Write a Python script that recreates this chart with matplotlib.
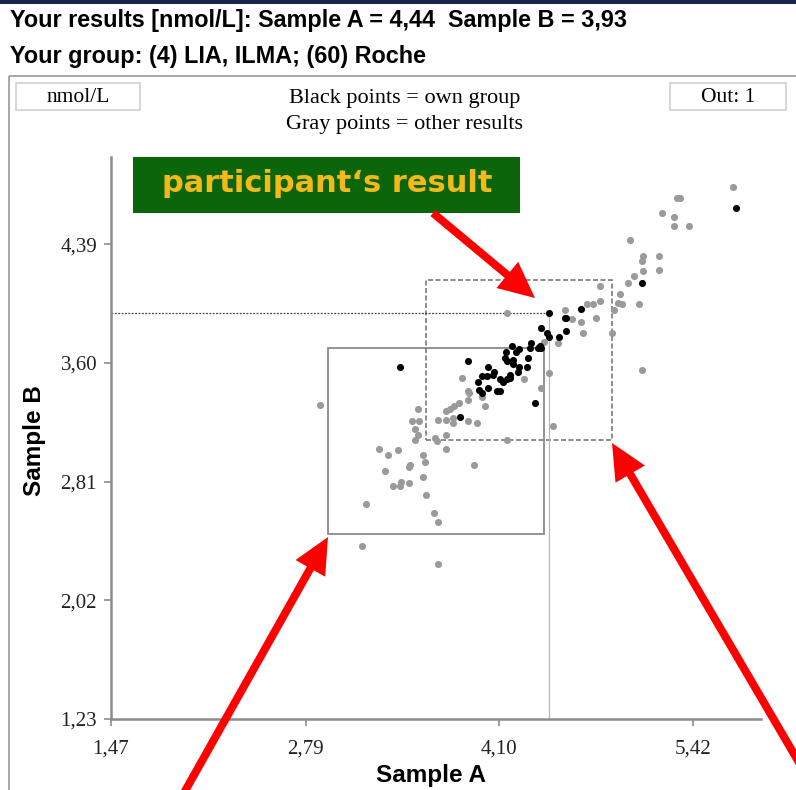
import numpy as np
import matplotlib
matplotlib.use("Agg")
import matplotlib.pyplot as plt
from matplotlib.patches import Rectangle, FancyArrow

# --- Daten (nmol/L) ---
own_result = (4.44, 3.93)

other_a = [2.89, 3.17, 3.20, 3.29, 3.35, 3.42, 3.33, 3.49, 3.50, 3.38, 3.43, 3.44, 3.49,
           3.59, 3.60, 3.59, 3.61, 3.66, 3.69, 3.69, 3.93, 3.74, 3.55, 3.51, 3.56, 3.53,
           3.55, 3.53, 3.67, 3.68, 3.74, 3.69, 3.74, 3.79, 3.79, 3.89, 3.95, 3.74, 3.77,
           3.80, 3.83, 3.89, 3.90, 4.01, 3.99, 3.89, 3.85, 4.27, 4.44, 4.39, 4.47, 4.16,
           4.16, 4.41, 4.50, 4.55, 4.60, 4.66, 4.67, 4.70, 4.74, 4.76, 4.79, 4.79, 4.87,
           4.88, 4.92, 4.91, 4.94, 5.05, 4.98, 5.02, 5.08, 5.07, 5.08, 5.19, 5.19, 4.99,
           5.21, 5.29, 5.29, 5.39, 5.31, 5.33, 5.69, 5.07]
other_b = [3.32, 2.38, 2.66, 3.03, 2.99, 3.02, 2.88, 2.91, 2.92, 2.78, 2.78, 2.81, 2.80,
           2.99, 2.94, 2.84, 2.72, 2.60, 2.54, 2.26, 2.92, 3.03, 3.29, 3.21, 3.21, 3.16,
           3.12, 3.09, 3.10, 3.08, 3.12, 3.22, 3.22, 3.23, 3.20, 3.21, 3.20, 3.28, 3.29,
           3.31, 3.33, 3.35, 3.40, 3.31, 3.37, 3.41, 3.50, 3.49, 3.53, 3.43, 3.18, 3.09,
           3.93, 3.74, 3.73, 3.95, 3.89, 3.87, 3.80, 3.99, 3.99, 3.90, 4.01, 4.11, 3.80,
           3.95, 4.06, 4.00, 3.99, 3.99, 4.13, 4.18, 4.21, 4.28, 4.31, 4.31, 4.22, 4.42,
           4.60, 4.57, 4.51, 4.51, 4.70, 4.70, 4.77, 3.55]

group_a = [4.44, 4.66, 5.07, 5.71, 4.55, 4.56, 4.39, 4.43, 4.44, 4.56, 4.51, 4.38, 4.39,
           4.37, 4.32, 4.31, 4.24, 4.22, 4.19, 4.15, 4.14, 4.16, 4.20, 4.20, 4.30, 4.29,
           4.24, 4.23, 3.89, 4.03, 4.07, 4.06, 4.18, 4.18, 4.16, 4.11, 4.13, 3.99, 4.02,
           3.96, 4.03, 3.97, 3.99, 4.09, 4.11, 4.35, 3.84, 3.43]
group_b = [3.93, 3.96, 4.13, 4.63, 3.90, 3.90, 3.83, 3.80, 3.77, 3.81, 3.77, 3.71, 3.70,
           3.70, 3.73, 3.70, 3.69, 3.67, 3.71, 3.67, 3.63, 3.61, 3.62, 3.59, 3.63, 3.57,
           3.57, 3.54, 3.61, 3.57, 3.54, 3.52, 3.52, 3.50, 3.49, 3.49, 3.47, 3.51, 3.51,
           3.47, 3.43, 3.42, 3.40, 3.41, 3.41, 3.33, 3.24, 3.57]

# Bewertungsrahmen: (A min, A max, B min, B max)
box_solid = (2.94, 4.41, 2.46, 3.70)
box_dashed = (3.61, 4.87, 3.09, 4.15)

x_ticks = [1.47, 2.79, 4.10, 5.42]
y_ticks = [1.23, 2.02, 2.81, 3.60, 4.39]
x_range = (1.47, 5.88)
y_range = (1.23, 4.97)

serif = "Liberation Serif"
sans = "Liberation Sans"
axis_gray = "#8c8c8c"

fig = plt.figure(figsize=(7.96, 7.90), dpi=100)
ax = fig.add_axes([111 / 796, 1 - 719 / 790, 650 / 796, 562 / 790])

# Punkte
ax.scatter(other_a, other_b, s=26, color="#9a9a9a", linewidths=0, zorder=3)
ax.scatter(group_a, group_b, s=26, color="black", linewidths=0, zorder=4)

# Rahmen
x0, x1, y0, y1 = box_solid
ax.add_patch(Rectangle((x0, y0), x1 - x0, y1 - y0, fill=False, ec="#8a8a8a", lw=1.3, zorder=2))
x0, x1, y0, y1 = box_dashed
ax.add_patch(Rectangle((x0, y0), x1 - x0, y1 - y0, fill=False, ec="#7a7a7a", lw=1.2,
                       ls=(0, (3, 1.5)), zorder=2))

# Linien zum eigenen Ergebnis
ax.plot([x_range[0], own_result[0]], [own_result[1], own_result[1]], color="#444444",
        lw=0.9, ls=(0, (1.5, 1.2)), zorder=2)
ax.plot([own_result[0], own_result[0]], [y_range[0], own_result[1]], color="#b8b8b8",
        lw=0.9, zorder=2)

ax.set_xlim(*x_range)
ax.set_ylim(*y_range)
for side in ["top", "right"]:
    ax.spines[side].set_visible(False)
for side in ["left", "bottom"]:
    ax.spines[side].set_color(axis_gray)
    ax.spines[side].set_linewidth(1.8)
ax.set_xticks(x_ticks)
ax.set_yticks(y_ticks)
ax.set_xticklabels([f"{v:.2f}".replace(".", ",") for v in x_ticks], fontfamily=serif,
                   fontsize=15, color="#222222")
ax.set_yticklabels([f"{v:.2f}".replace(".", ",") for v in y_ticks], fontfamily=serif,
                   fontsize=15, color="#222222")
ax.tick_params(axis="x", direction="out", length=5, width=1.2, color=axis_gray, pad=10)
ax.tick_params(axis="y", direction="out", length=5, width=1.2, color=axis_gray, pad=5)
ax.set_xlabel("Sample A", fontfamily=sans, fontweight="bold", fontsize=17.5)
ax.set_ylabel("Sample B", fontfamily=sans, fontweight="bold", fontsize=17.5)
ax.xaxis.set_label_coords(0.492, -0.10)
ax.xaxis.label.set_va("center")
ax.yaxis.set_label_coords(-0.117, 0.496)
ax.yaxis.label.set_va("center")

# --- Overlay fuer Rahmen, Texte und Pfeile (Pixelkoordinaten) ---
ov = fig.add_axes([0, 0, 1, 1], zorder=5)
ov.set_xlim(0, 796)
ov.set_ylim(790, 0)
ov.axis("off")
ov.patch.set_alpha(0)

ov.add_patch(Rectangle((0, 0), 796, 4, color="#1c2550", lw=0))
ov.text(10, 20, "Your results [nmol/L]: Sample A = 4,44  Sample B = 3,93", fontfamily=sans,
        fontweight="bold", fontsize=16.8, va="center", ha="left")
ov.text(10, 57, "Your group: (4) LIA, ILMA; (60) Roche", fontfamily=sans,
        fontweight="bold", fontsize=16.8, va="center", ha="left")

ov.add_patch(Rectangle((9, 76), 820, 800, fill=False, ec="#a0a0a0", lw=1.3))
ov.add_patch(Rectangle((16, 83), 124, 27, fill=False, ec="#d0d0d0", lw=1.2))
ov.add_patch(Rectangle((670, 83), 116, 27, fill=False, ec="#d0d0d0", lw=1.2))
ov.text(78, 97, "nmol/L", fontfamily=serif, fontsize=15.5, ha="center", va="center")
ov.text(728, 97, "Out: 1", fontfamily=serif, fontsize=15.5, ha="center", va="center")
ov.text(405, 98, "Black points = own group", fontfamily=serif, fontsize=16,
        ha="center", va="center")
ov.text(405, 124, "Gray points = other results", fontfamily=serif, fontsize=16,
        ha="center", va="center")

ov.add_patch(Rectangle((133, 157), 387, 56, color="#0b650b", lw=0))
ov.text(327, 184, "participant\u2018s result", fontfamily="DejaVu Sans", fontweight="bold",
        fontsize=22, color="#f3b81a", ha="center", va="center")

for (sx, sy, tx, ty) in [(433, 213, 535, 298), (180, 800, 328, 537), (818, 795, 612, 443)]:
    ov.add_patch(FancyArrow(sx, sy, tx - sx, ty - sy, width=8, head_width=34, head_length=36,
                            length_includes_head=True, color="#ff0000", lw=0))

fig.savefig("out.png", dpi=100)
